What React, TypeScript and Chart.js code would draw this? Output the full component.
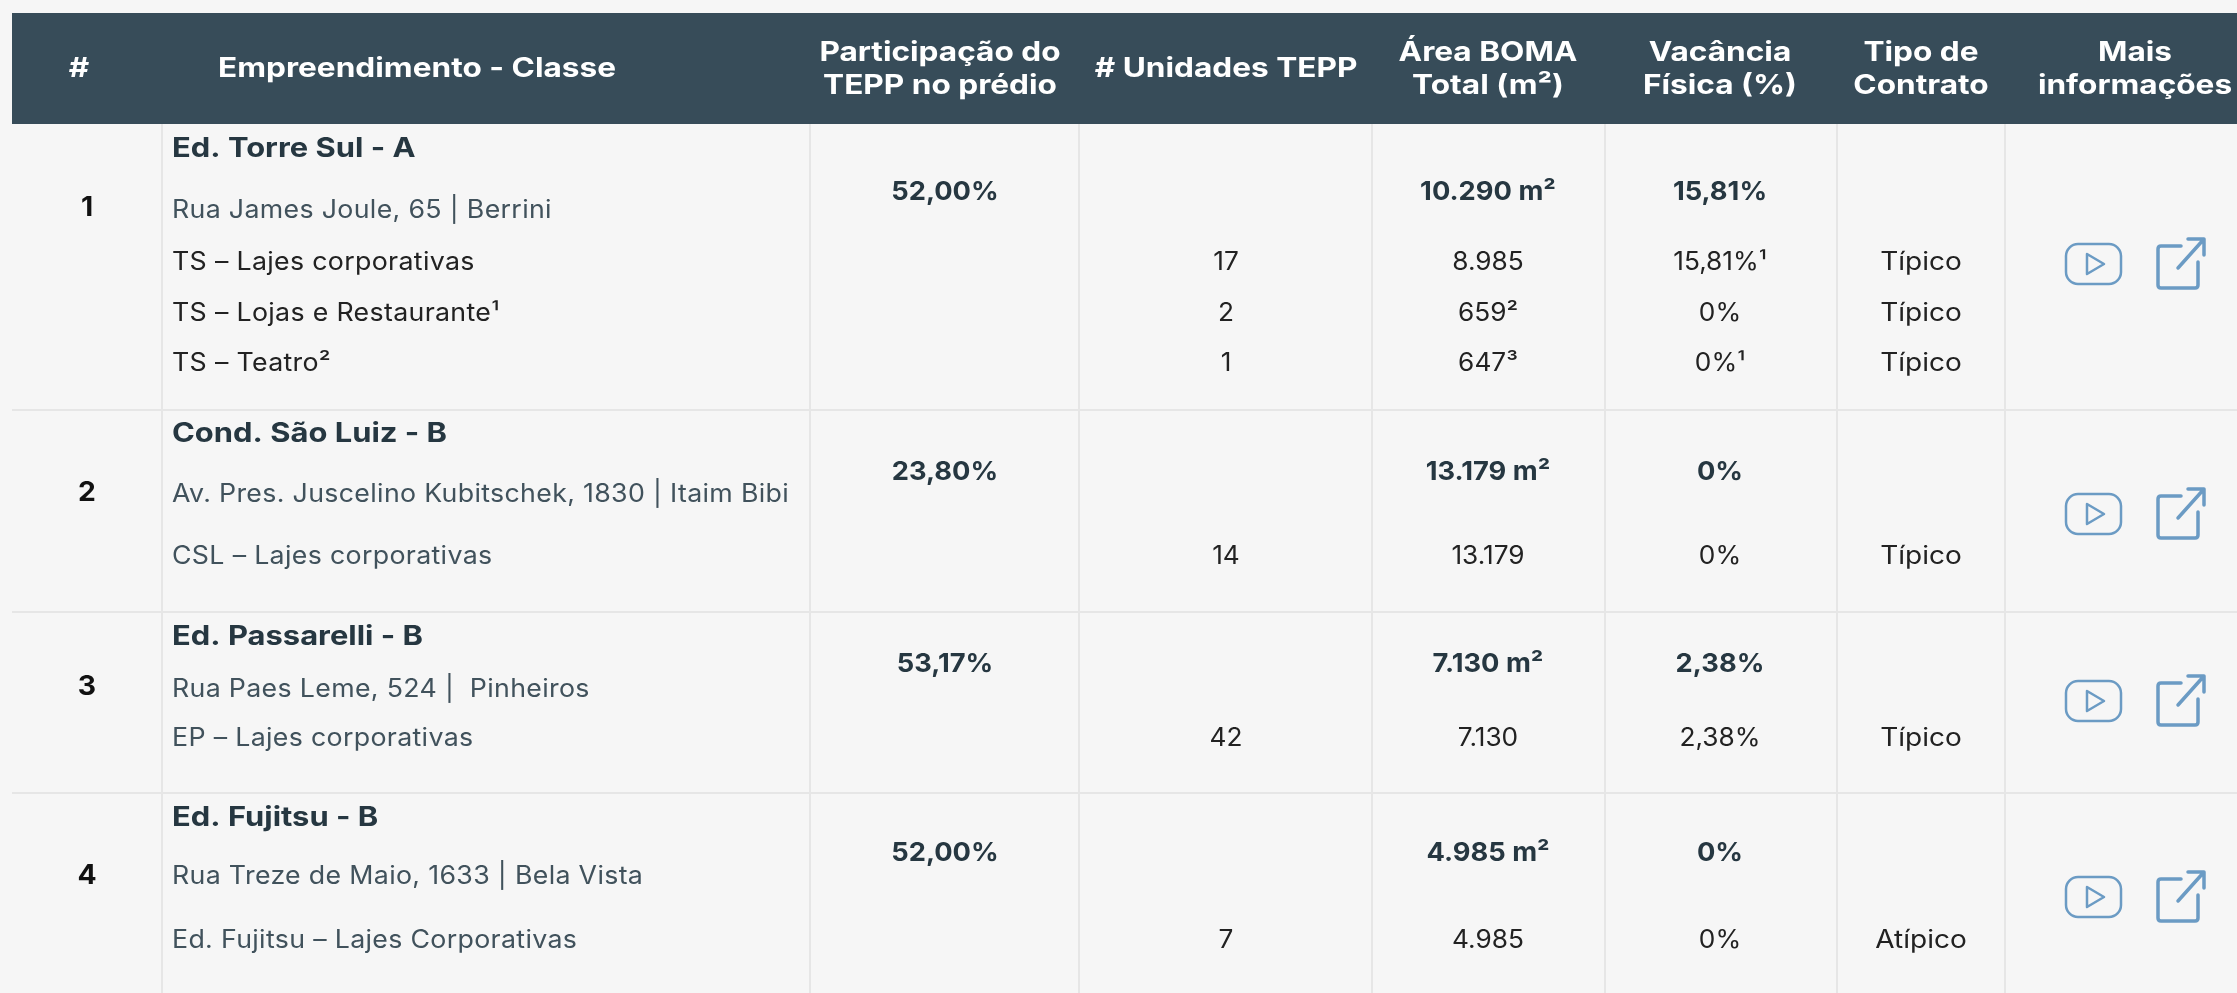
import React, { useEffect, useRef } from "react";
import { Chart, registerables } from "chart.js";

Chart.register(...registerables);

// ---- table content ----
const headers = ["#", "Empreendimento - Classe", "Participação do|TEPP no prédio", "# Unidades TEPP", "Área BOMA|Total (m²)", "Vacância|Física (%)", "Tipo de|Contrato", "Mais|informações"];
const rowNumbers = ["1", "2", "3", "4"];
const buildings = ["Ed. Torre Sul - A", "Cond. São Luiz - B", "Ed. Passarelli - B", "Ed. Fujitsu - B"];
const addresses = ["Rua James Joule, 65 | Berrini", "Av. Pres. Juscelino Kubitschek, 1830 | Itaim Bibi", "Rua Paes Leme, 524 |  Pinheiros", "Rua Treze de Maio, 1633 | Bela Vista"];
const shares = ["52,00%", "23,80%", "53,17%", "52,00%"];
const totalAreas = ["10.290 m²", "13.179 m²", "7.130 m²", "4.985 m²"];
const totalVacancies = ["15,81%", "0%", "2,38%", "0%"];
const unitNames = [["TS – Lajes corporativas", "TS – Lojas e Restaurante¹", "TS – Teatro²"], ["CSL – Lajes corporativas"], ["EP – Lajes corporativas"], ["Ed. Fujitsu – Lajes Corporativas"]];
const unitCounts = [["17", "2", "1"], ["14"], ["42"], ["7"]];
const unitAreas = [["8.985", "659²", "647³"], ["13.179"], ["7.130"], ["4.985"]];
const unitVacancies = [["15,81%¹", "0%", "0%¹"], ["0%"], ["2,38%"], ["0%"]];
const unitContracts = [["Típico", "Típico", "Típico"], ["Típico"], ["Típico"], ["Atípico"]];

// ---- layout (axis units = page pixels) ----
const W = 2237, H = 993;
const headTop = 13, headBottom = 124, tableLeft = 12;
const colLines = [162, 810, 1079, 1372, 1605, 1837, 2005];
const rowLines = [410, 612, 793];
const headCenters = [79, 417, 940, 1226, 1488, 1720, 1921, 2135];
const cx = { num: 87, left: 172, share: 945, count: 1226, area: 1488, vac: 1720, contract: 1921 };
const rowY = [
  { title: 149, addr: 210, strong: 192, num: 208, units: [262, 313, 363], icon: 264 },
  { title: 434, addr: 494, strong: 472, num: 493, units: [556], icon: 514 },
  { title: 637, addr: 689, strong: 664, num: 687, units: [738], icon: 701 },
  { title: 818, addr: 876, strong: 853, num: 876, units: [940], icon: 897 },
];

const FONT = "Inter, 'Open Sans', sans-serif";
const styles: any = {
  head: { font: `700 27px ${FONT}`, color: "#ffffff", align: "center", ls: "0px", sx: 1.17 },
  title: { font: `700 27px ${FONT}`, color: "#263741", align: "left", ls: "0px", sx: 1.145 },
  strong: { font: `700 26px ${FONT}`, color: "#263741", align: "center", ls: "0px", sx: 1.05 },
  num: { font: `700 27px ${FONT}`, color: "#111111", align: "center", ls: "0px", sx: 1.05 },
  addr: { font: `400 25px ${FONT}`, color: "#41525c", align: "left", ls: "0.3px", sx: 1.07 },
  item: { font: `400 25px ${FONT}`, color: "#222222", align: "left", ls: "0.3px", sx: 1.07 },
  itemC: { font: `400 25px ${FONT}`, color: "#222222", align: "center", ls: "0px", sx: 1.05 },
  contract: { font: `400 25px ${FONT}`, color: "#222222", align: "center", ls: "0px", sx: 1.12 },
};

function buildCells() {
  const cells: any[] = [];
  const add = (x: number, y: number, text: string, style: string) => cells.push({ x, y, text, style });
  headers.forEach((h, i) => {
    const parts = h.split("|");
    if (parts.length === 1) add(headCenters[i], 69, parts[0], "head");
    else parts.forEach((p, k) => add(headCenters[i], 53 + k * 33, p, "head"));
  });
  rowNumbers.forEach((n, r) => {
    const y = rowY[r];
    add(cx.num, y.num, n, "num");
    add(cx.left, y.title, buildings[r], "title");
    add(cx.left, y.addr, addresses[r], "addr");
    add(cx.share, y.strong, shares[r], "strong");
    add(cx.area, y.strong, totalAreas[r], "strong");
    add(cx.vac, y.strong, totalVacancies[r], "strong");
    unitNames[r].forEach((name, u) => {
      add(cx.left, y.units[u], name, r === 0 ? "item" : "addr");
      add(cx.count, y.units[u], unitCounts[r][u], "itemC");
      add(cx.area, y.units[u], unitAreas[r][u], "itemC");
      add(cx.vac, y.units[u], unitVacancies[r][u], "itemC");
      add(cx.contract, y.units[u], unitContracts[r][u], "contract");
    });
  });
  return cells;
}

const tablePlugin = {
  id: "tablePlugin",
  beforeDatasetsDraw(chart: any) {
    const { ctx, scales } = chart;
    const px = (v: number) => scales.x.getPixelForValue(v);
    const py = (v: number) => scales.y.getPixelForValue(v);
    ctx.save();
    ctx.fillStyle = "#374c59";
    ctx.fillRect(px(tableLeft), py(headTop), px(W) - px(tableLeft), py(headBottom) - py(headTop));
    ctx.restore();
  },
  afterDatasetsDraw(chart: any) {
    const { ctx, scales } = chart;
    const px = (v: number) => scales.x.getPixelForValue(v);
    const py = (v: number) => scales.y.getPixelForValue(v);
    ctx.save();
    ctx.textBaseline = "middle";
    chart.data.datasets[0].data.forEach((c: any) => {
      const s = styles[c.style];
      ctx.save();
      ctx.font = s.font;
      ctx.fillStyle = s.color;
      ctx.textAlign = s.align;
      (ctx as any).letterSpacing = s.ls;
      ctx.translate(px(c.x), py(c.y));
      ctx.scale(s.sx, 1);
      ctx.fillText(c.text, 0, 0);
      ctx.restore();
    });
    // action icons
    ctx.strokeStyle = "#6b9bc4";
    ctx.lineCap = "round";
    ctx.lineJoin = "round";
    rowY.forEach((r) => {
      const y = py(r.icon);
      const x0 = px(2066), x1 = px(2121);
      ctx.lineWidth = 2.5;
      ctx.beginPath();
      ctx.roundRect(x0, y - 20, x1 - x0, 40, 12);
      ctx.stroke();
      ctx.beginPath();
      ctx.moveTo(x0 + 21, y - 10);
      ctx.lineTo(x0 + 38, y);
      ctx.lineTo(x0 + 21, y + 10);
      ctx.closePath();
      ctx.stroke();
      const lx = px(2158);
      ctx.lineWidth = 3.5;
      ctx.beginPath();
      ctx.moveTo(lx + 23, y - 18);
      ctx.lineTo(lx + 3, y - 18);
      ctx.quadraticCurveTo(lx, y - 18, lx, y - 15);
      ctx.lineTo(lx, y + 21);
      ctx.quadraticCurveTo(lx, y + 24, lx + 3, y + 24);
      ctx.lineTo(lx + 37, y + 24);
      ctx.quadraticCurveTo(lx + 40, y + 24, lx + 40, y + 21);
      ctx.lineTo(lx + 40, y - 2);
      ctx.stroke();
      ctx.beginPath();
      ctx.moveTo(lx + 20, y + 4);
      ctx.lineTo(lx + 46, y - 25);
      ctx.moveTo(lx + 30, y - 25);
      ctx.lineTo(lx + 46, y - 25);
      ctx.lineTo(lx + 46, y - 9);
      ctx.stroke();
    });
    ctx.restore();
  },
};

export default function App() {
  const ref = useRef<HTMLCanvasElement>(null);
  useEffect(() => {
    document.body.style.margin = "0";
    document.body.style.background = "#f6f6f6";
    const lineSet = (data: any[]) => ({
      type: "scatter", data, showLine: true, pointRadius: 0, borderColor: "#e6e6e6", borderWidth: 2, fill: false,
    });
    const chart = new Chart(ref.current as HTMLCanvasElement, {
      type: "scatter",
      data: {
        datasets: [
          { label: "cells", data: buildCells(), pointRadius: 0, showLine: false },
          ...colLines.map((x) => lineSet([{ x, y: headBottom }, { x, y: H }])),
          ...rowLines.map((y) => lineSet([{ x: tableLeft, y }, { x: W, y }])),
        ] as any,
      },
      options: {
        animation: false,
        responsive: false,
        layout: { padding: 0 },
        plugins: { legend: { display: false }, tooltip: { enabled: false }, title: { display: false } },
        scales: {
          x: { type: "linear", min: 0, max: W, display: false },
          y: { type: "linear", min: 0, max: H, reverse: true, display: false },
        },
      },
      plugins: [tablePlugin],
    } as any);
    return () => chart.destroy();
  }, []);
  return (
    <div style={{ position: "fixed", left: 0, top: 0, width: W, height: H, background: "#f6f6f6" }}>
      <canvas ref={ref} width={W} height={H} style={{ display: "block" }} />
    </div>
  );
}
